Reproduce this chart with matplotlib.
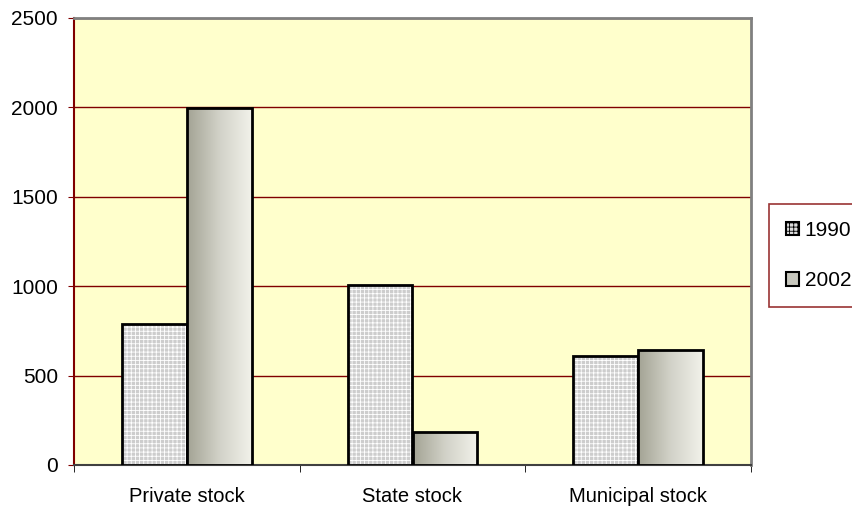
import numpy as np
import matplotlib.pyplot as plt
from matplotlib.patches import Patch
from matplotlib.colors import LinearSegmentedColormap

categories = ["Private stock", "State stock", "Municipal stock"]
years = ["1990", "2002"]
values_1990 = [790, 1005, 610]
values_2002 = [1995, 185, 643]

plt.rcParams['font.family'] = ['Liberation Sans', 'DejaVu Sans']
plt.rcParams['hatch.linewidth'] = 0.6

dark_red = "#800000"

def main():
    fig = plt.figure(figsize=(8.52, 5.09), dpi=100)
    ax = fig.add_axes([74 / 852, 44 / 509, 677 / 852, 447 / 509])
    ax.set_facecolor("#FFFFCC")

    x = np.arange(len(categories))
    w = 0.288

    # 1990: light gray with fine white grid
    ax.bar(x - w / 2, values_1990, w, facecolor="#cdcdcd", edgecolor="white",
           hatch="++++", linewidth=0, zorder=3)
    ax.bar(x - w / 2, values_1990, w, fill=False, edgecolor="black",
           linewidth=2, zorder=4)

    # 2002: horizontal gradient, dark left to light right
    bars = ax.bar(x + w / 2, values_2002, w, facecolor="none", edgecolor="black",
                  linewidth=2, zorder=5)
    grad = np.linspace(0, 1, 256).reshape(1, -1)
    cmap = LinearSegmentedColormap.from_list("g", ["#a3a394", "#d2d2c8", "#f2f2ea"])
    for b in bars:
        x0, y0 = b.get_x(), b.get_y()
        im = ax.imshow(grad, cmap=cmap, aspect="auto", zorder=4,
                       extent=[x0, x0 + b.get_width(), y0, y0 + b.get_height()])
        im.set_clip_path(b)

    ax.set_xlim(-0.5, 2.5)
    ax.set_ylim(0, 2500)
    ax.set_yticks([0, 500, 1000, 1500, 2000, 2500])
    ax.yaxis.grid(True, color=dark_red, linewidth=1, zorder=1)
    ax.set_axisbelow(True)

    ax.set_xticks(x)
    ax.set_xticklabels(categories, fontsize=14.5)
    ax.set_xticks([-0.5, 0.5, 1.5, 2.5], minor=True)
    ax.tick_params(axis="x", which="major", length=0, pad=16)
    ax.tick_params(axis="x", which="minor", length=5, color="black")
    ax.tick_params(axis="y", length=4.5, color=dark_red, labelsize=15, pad=7)

    ax.spines["left"].set_color(dark_red)
    ax.spines["bottom"].set_color("#404040")
    ax.spines["top"].set_color("#808080")
    ax.spines["right"].set_color("#808080")
    for s in ax.spines.values():
        s.set_linewidth(1.5)
    ax.spines["top"].set_linewidth(2)
    ax.spines["right"].set_linewidth(2)

    handles = [
        Patch(facecolor="#dcdcdc", edgecolor="black", hatch="++++", linewidth=1.5),
        Patch(facecolor="#c8c8be", edgecolor="black", linewidth=1.5),
    ]
    leg = fig.legend(handles, years, loc="upper left",
                     bbox_to_anchor=(769 / 852, 1 - 204 / 509), frameon=True,
                     fancybox=False, fontsize=15, handlelength=0.6,
                     handleheight=0.6, handletextpad=0.3, labelspacing=1.5,
                     borderpad=0.82, borderaxespad=0)
    leg.get_frame().set_edgecolor(dark_red)
    leg.get_frame().set_linewidth(1.2)

    fig.savefig("out.png", dpi=100)
    plt.close(fig)


if __name__ == "__main__":
    main()
